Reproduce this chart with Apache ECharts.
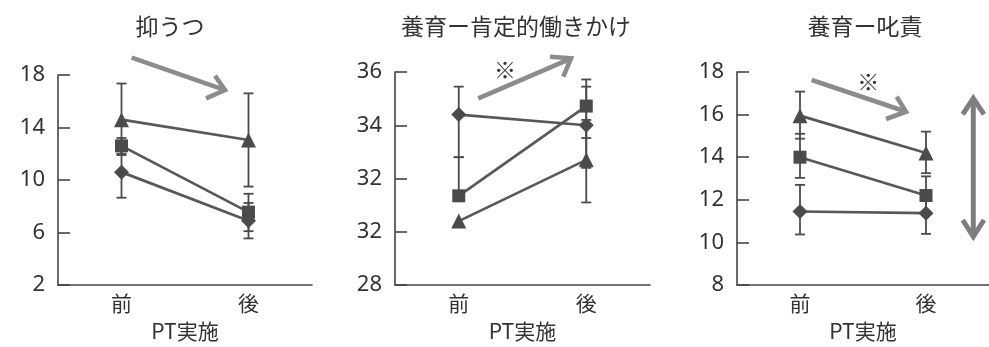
<!DOCTYPE html>
<html>
<head>
<meta charset="utf-8">
<script src="https://cdn.jsdelivr.net/npm/echarts@6/dist/echarts.min.js"></script>
<style>
  html, body { margin: 0; padding: 0; background: #fff; }
  #chart { width: 989px; height: 347px; }
</style>
</head>
<body>
<div id="chart"></div>
<script>
// Categories and labels
const categories = ['前', '後'];
const panelTitles = ['抑うつ', '養育ー肯定的働きかけ', '養育ー叱責'];
const xAxisName = 'PT実施';

// Y tick labels per panel
const yTicks1 = ['2', '6', '10', '14', '18'];
const yTicks2 = ['28', '32', '32', '34', '36'];
const yTicks3 = ['8', '10', '12', '14', '16', '18'];

// Panel 1: 抑うつ  (mean, error up, error down)
const dep_tri = [14.6, 13.05];
const dep_triUp = [2.75, 3.55];
const dep_triDown = [2.7, 3.55];
const dep_sq = [12.6, 7.55];
const dep_sqUp = [0.6, 1.4];
const dep_sqDown = [0.6, 1.45];
const dep_dia = [10.6, 6.9];
const dep_diaUp = [1.95, 1.35];
const dep_diaDown = [1.95, 1.35];

// Panel 2: 養育ー肯定的働きかけ
const pos_tri = [30.4, 32.7];
const pos_triUp = [0, 1.5];
const pos_triDown = [0, 1.6];
const pos_sq = [31.35, 34.72];
const pos_sqUp = [1.45, 1.0];
const pos_sqDown = [0, 1.2];
const pos_dia = [34.4, 34.0];
const pos_diaUp = [1.05, 1.45];
const pos_diaDown = [1.6, 1.6];

// Panel 3: 養育ー叱責
const sco_tri = [15.95, 14.2];
const sco_triUp = [1.13, 1.0];
const sco_triDown = [1.08, 0.95];
const sco_sq = [14.0, 12.2];
const sco_sqUp = [1.1, 0.9];
const sco_sqDown = [0.97, 0.9];
const sco_dia = [11.45, 11.37];
const sco_diaUp = [1.25, 1.0];
const sco_diaDown = [1.08, 0.97];

const DARK = '#4b4b4d';
const LINE = '#58585a';
const ARROW = '#8c8c8c';
const TEXT = '#333333';
const FONT = '"Noto Sans", "Noto Sans CJK JP", sans-serif';
const CJK = '"Noto Sans CJK JP", "Noto Sans", sans-serif';

const panels = [
  { grid: { left: 58, top: 75, width: 254, height: 215 }, y: [2, 18, 4], ticks: yTicks1,
    series: [
      { sym: 'triangle', size: 15, v: dep_tri, up: dep_triUp, dn: dep_triDown },
      { sym: 'rect', size: 13, v: dep_sq, up: dep_sqUp, dn: dep_sqDown },
      { sym: 'diamond', size: 15, v: dep_dia, up: dep_diaUp, dn: dep_diaDown }
    ] },
  { grid: { left: 395, top: 72, width: 255, height: 218 }, y: [28, 36, 2], ticks: yTicks2,
    series: [
      { sym: 'triangle', size: 15, v: pos_tri, up: pos_triUp, dn: pos_triDown },
      { sym: 'rect', size: 13, v: pos_sq, up: pos_sqUp, dn: pos_sqDown },
      { sym: 'diamond', size: 15, v: pos_dia, up: pos_diaUp, dn: pos_diaDown }
    ] },
  { grid: { left: 737, top: 72, width: 254, height: 218 }, y: [8, 18, 2], ticks: yTicks3,
    series: [
      { sym: 'triangle', size: 15, v: sco_tri, up: sco_triUp, dn: sco_triDown },
      { sym: 'rect', size: 13, v: sco_sq, up: sco_sqUp, dn: sco_sqDown },
      { sym: 'diamond', size: 15, v: sco_dia, up: sco_diaUp, dn: sco_diaDown }
    ] }
];

// Error bar: vertical whisker with caps
function renderErr(params, api) {
  const x = api.value(0), v = api.value(1), up = api.value(2), dn = api.value(3);
  const top = api.coord([x, v + up]);
  const bot = api.coord([x, v - dn]);
  const cap = 5;
  const style = { stroke: DARK, lineWidth: 1.8 };
  const children = [];
  if (up > 0 || dn > 0) {
    children.push({ type: 'line', shape: { x1: top[0], y1: top[1], x2: bot[0], y2: bot[1] }, style });
  }
  if (up > 0) children.push({ type: 'line', shape: { x1: top[0] - cap, y1: top[1], x2: top[0] + cap, y2: top[1] }, style });
  if (dn > 0) children.push({ type: 'line', shape: { x1: bot[0] - cap, y1: bot[1], x2: bot[0] + cap, y2: bot[1] }, style });
  return { type: 'group', children };
}

const grids = [], xAxes = [], yAxes = [], series = [];
panels.forEach((p, i) => {
  grids.push(p.grid);
  xAxes.push({
    type: 'category', gridIndex: i, data: categories, boundaryGap: true,
    axisLine: { lineStyle: { color: '#444', width: 1.6 } },
    axisTick: { show: false },
    axisLabel: { color: TEXT, fontSize: 21, fontFamily: CJK, margin: 8 },
    name: xAxisName, nameLocation: 'middle', nameGap: 36,
    nameTextStyle: { color: TEXT, fontSize: 21, fontFamily: CJK }
  });
  yAxes.push({
    type: 'value', gridIndex: i, min: p.y[0], max: p.y[1], interval: p.y[2],
    splitLine: { show: false },
    axisLine: { show: true, lineStyle: { color: '#444', width: 1.6 } },
    axisTick: { show: true, inside: true, length: 12, lineStyle: { color: '#444', width: 1.6 } },
    axisLabel: { color: TEXT, fontSize: 22, fontFamily: FONT, margin: 13,
      formatter: (val, idx) => p.ticks[idx] }
  });
  p.series.forEach(s => {
    series.push({
      type: 'custom', xAxisIndex: i, yAxisIndex: i, renderItem: renderErr, z: 1,
      data: s.v.map((v, k) => [k, v, s.up[k], s.dn[k]])
    });
  });
  p.series.forEach(s => {
    series.push({
      type: 'line', xAxisIndex: i, yAxisIndex: i, data: s.v, z: 3,
      symbol: s.sym, symbolSize: s.size, showSymbol: true,
      lineStyle: { color: LINE, width: 2.7 },
      itemStyle: { color: DARK, borderWidth: 0 },
      emphasis: { disabled: true }, animation: false
    });
  });
});

// Trend arrows and marks drawn on top
function chevron(tip, a, b, w, color) {
  return { type: 'polyline', shape: { points: [a, tip, b] },
    style: { stroke: color, lineWidth: w, fill: null, lineCap: 'butt', lineJoin: 'miter' }, z: 10 };
}
function shaft(p1, p2, w, color) {
  return { type: 'line', shape: { x1: p1[0], y1: p1[1], x2: p2[0], y2: p2[1] },
    style: { stroke: color, lineWidth: w }, z: 10 };
}
const graphics = [
  shaft([131.7, 57.7], [223, 89.3], 4.6, ARROW),
  chevron([225, 90], [215, 75.7], [206, 98.3], 4.6, ARROW),
  shaft([478.3, 98.3], [569, 59.3], 4.6, ARROW),
  chevron([571, 58.3], [550, 56.7], [563.3, 76.7], 4.6, ARROW),
  shaft([811.7, 80], [904, 111], 4.6, ARROW),
  chevron([906, 111.7], [896.7, 96.7], [886, 119], 4.6, ARROW),
  shaft([973.3, 100], [973.3, 235], 5, '#7e7e7e'),
  chevron([973.3, 98.3], [962.7, 114.3], [984, 114.3], 5, '#7e7e7e'),
  chevron([973.3, 236.7], [962.7, 220], [984, 220], 5, '#7e7e7e'),
  { type: 'text', x: 505, y: 70, z: 10, style: { text: '※', fill: TEXT, fontSize: 22, fontFamily: CJK, textAlign: 'center', textVerticalAlign: 'middle' } },
  { type: 'text', x: 868.3, y: 81.7, z: 10, style: { text: '※', fill: TEXT, fontSize: 22, fontFamily: CJK, textAlign: 'center', textVerticalAlign: 'middle' } }
];

const titleX = [165, 511, 860];
const chart = echarts.init(document.getElementById('chart'), null, { renderer: 'canvas' });
chart.setOption({
  animation: false,
  title: panelTitles.map((t, i) => ({
    text: t, left: titleX[i], top: 10, textAlign: 'center',
    textStyle: { color: TEXT, fontSize: 23, fontWeight: 'normal', fontFamily: CJK }
  })),
  grid: grids, xAxis: xAxes, yAxis: yAxes, series: series,
  graphic: graphics
});
</script>
</body>
</html>
